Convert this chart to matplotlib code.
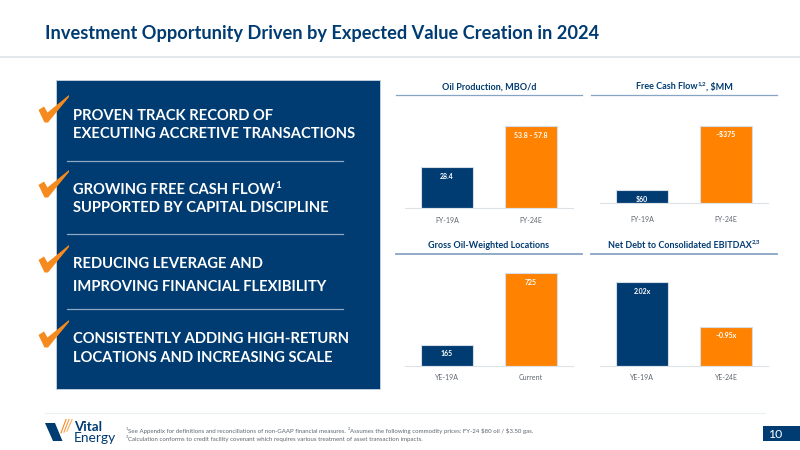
import matplotlib
matplotlib.use("Agg")
import matplotlib.pyplot as plt
from matplotlib.patches import Polygon, Rectangle

plt.rcParams['font.family'] = ['Lato', 'DejaVu Sans']

NAVY = '#003B71'
ORANGE = '#FF8200'
W, H = 800, 450

title = "Investment Opportunity Driven by Expected Value Creation in 2024"

oil_cats = ["FY-19A", "FY-24E"]
oil_vals = [28.4, 56.8]
oil_labels = ["28.4", "53.8 - 57.8"]

fcf_cats = ["FY-19A", "FY-24E"]
fcf_vals = [60, 375]
fcf_labels = ["$60", "~$375"]

loc_cats = ["YE-19A", "Current"]
loc_vals = [165, 725]
loc_labels = ["165", "725"]

debt_cats = ["YE-19A", "YE-24E"]
debt_vals = [2.02, 0.95]
debt_labels = ["2.02x", "~0.95x"]

fig = plt.figure(figsize=(8, 4.5), dpi=100, facecolor='white')
bg = fig.add_axes([0, 0, 1, 1])
bg.set_xlim(0, W)
bg.set_ylim(H, 0)
bg.axis('off')
renderer = fig.canvas.get_renderer()


def rich(x, y, parts, size, color, weight='normal', ha='left'):
    """Draw text with superscript parts; y is the text centre in pixels."""
    widths = []
    for s, sup in parts:
        t = bg.text(0, 0, s, fontsize=size * (0.68 if sup else 1), weight=weight, parse_math=False)
        widths.append(t.get_window_extent(renderer).width)
        t.remove()
    total = sum(widths)
    cx = x - total / 2 if ha == 'center' else x
    for (s, sup), w in zip(parts, widths):
        bg.text(cx, y - (size * 0.42 if sup else 0), s, fontsize=size * (0.68 if sup else 1),
                color=color, weight=weight, ha='left', va='center_baseline', parse_math=False)
        cx += w


# Header and footer furniture
bg.text(45, 32.5, title, fontsize=13.14, color=NAVY, weight='bold', va='center_baseline')
bg.plot([0, 800], [57, 57], color='#E3E8EC', lw=1.4)
bg.plot([45, 765], [412.5, 412.5], color='#EDF0F2', lw=0.9)
bg.add_patch(Rectangle((763, 426), 37, 14.5, color=NAVY, lw=0))
bg.text(775.5, 433.5, "10", fontsize=8.8, color='white', ha='center', va='center_baseline')

# Left panel
bg.add_patch(Rectangle((56, 80), 323.5, 309, facecolor=NAVY, edgecolor='#C9D6E2', lw=0.6))
for yy in (160.7, 234, 309):
    bg.plot([66.7, 342.7], [yy, yy], color='#8FA9C4', lw=0.9)

TS = 10.6
rich(73, 114.3, [("PROVEN TRACK RECORD OF", False)], TS, 'white', 'bold')
rich(73, 132.7, [("EXECUTING ACCRETIVE TRANSACTIONS", False)], TS, 'white', 'bold')
rich(73, 189, [("GROWING FREE CASH FLOW", False), ("1", True)], TS, 'white', 'bold')
rich(73, 207, [("SUPPORTED BY CAPITAL DISCIPLINE", False)], TS, 'white', 'bold')
rich(73, 263, [("REDUCING LEVERAGE AND", False)], TS, 'white', 'bold')
rich(73, 285.7, [("IMPROVING FINANCIAL FLEXIBILITY", False)], TS, 'white', 'bold')
rich(73, 337.7, [("CONSISTENTLY ADDING HIGH-RETURN", False)], TS, 'white', 'bold')
rich(73, 356.7, [("LOCATIONS AND INCREASING SCALE", False)], TS, 'white', 'bold')

# Check marks
for dy in (0, 75, 150, 225):
    pts = [(38.5, 110), (44, 106.5), (47.5, 112.5), (69, 95), (69, 97), (48, 122.5), (44.5, 122.5)]
    bg.add_patch(Polygon([(px, py + dy) for px, py in pts], closed=True,
                         facecolor='#F58A1F', edgecolor='none', zorder=5))


def bar_panel(x0, x1, baseline, top, scale, cats, vals, labels, pad):
    """x0..x1 is the baseline extent in pixels, scale is pixels per data unit."""
    ax = fig.add_axes([x0 / W, 1 - baseline / H, (x1 - x0) / W, (baseline - top) / H])
    ax.patch.set_alpha(0)
    bars = ax.bar(range(len(vals)), vals, width=0.62, color=[NAVY, ORANGE],
                  edgecolor='#D5DEE8', linewidth=0.8)
    ax.set_xlim(-0.5, 1.5)
    ax.set_ylim(0, (baseline - top) / scale)
    for s in ('top', 'left', 'right'):
        ax.spines[s].set_visible(False)
    ax.spines['bottom'].set_color('#DDE2E6')
    ax.spines['bottom'].set_linewidth(0.8)
    ax.set_yticks([])
    ax.set_xticks(range(len(cats)))
    ax.set_xticklabels(cats, fontsize=5.0, color='#5F6770')
    ax.tick_params(axis='x', length=0, pad=pad)
    for b, lab in zip(bars, labels):
        ax.annotate(lab, (b.get_x() + b.get_width() / 2, b.get_height()),
                    xytext=(0, -6.2), textcoords='offset points', ha='center',
                    va='center_baseline', fontsize=5.0, color='white', weight='bold')


bar_panel(405, 573, 207.7, 110, 1.437, oil_cats, oil_vals, oil_labels, 6.9)
bar_panel(600, 768, 202.7, 110, 0.2053, fcf_cats, fcf_vals, fcf_labels, 9.3)
bar_panel(405, 573, 366, 262, 0.1283, loc_cats, loc_vals, loc_labels, 5.6)
bar_panel(600, 768, 366, 262, 41.5, debt_cats, debt_vals, debt_labels, 5.6)

# Panel headers
for xa, xb, yy, lw in ((396, 582, 95.3, 0.9), (591, 777, 95.3, 0.9),
                       (396, 582, 253.7, 1.3), (591, 777, 253.7, 1.3)):
    bg.plot([xa, xb], [yy, yy], color='#86A5C4', lw=lw)
HS = 6.5
rich(489, 85.7, [("Oil Production, MBO/d", False)], HS, NAVY, 'bold', 'center')
rich(684, 85.7, [("Free Cash Flow", False), ("1,2", True), (", $MM", False)], HS, NAVY, 'bold', 'center')
rich(489, 244, [("Gross Oil-Weighted Locations", False)], HS, NAVY, 'bold', 'center')
rich(684, 244, [("Net Debt to Consolidated EBITDAX", False), ("2,3", True)], HS, NAVY, 'bold', 'center')

# Footnotes
FS = 4.38
rich(126, 430.5, [("1", True), ("See Appendix for definitions and reconciliations of non-GAAP financial measures. ", False),
                  ("2", True), ("Assumes the following commodity prices: FY-24 $80 oil / $3.50 gas.", False)],
     FS, '#5F6770')
rich(126, 438.8, [("3", True), ("Calculation conforms to credit facility covenant which requires various treatment of asset transaction impacts.", False)],
     FS, '#5F6770')

# Logo
bg.add_patch(Polygon([(45, 423), (55, 423), (62.5, 441), (53, 441)], closed=True, facecolor=NAVY, edgecolor='none'))
for x_off, alpha in ((0, 1), (3, 0.85), (6, 0.7)):
    bg.plot([61 + x_off, 66 + x_off], [433 - x_off * 0.3, 419.5], color='#F58A1F', lw=0.8, alpha=alpha)
bg.text(74, 426, "Vital", fontsize=9.6, color=NAVY, weight='bold', va='center_baseline')
bg.text(74, 437.5, "Energy", fontsize=9.9, color=NAVY, va='center_baseline')

fig.savefig("out.png", dpi=100, facecolor='white')
